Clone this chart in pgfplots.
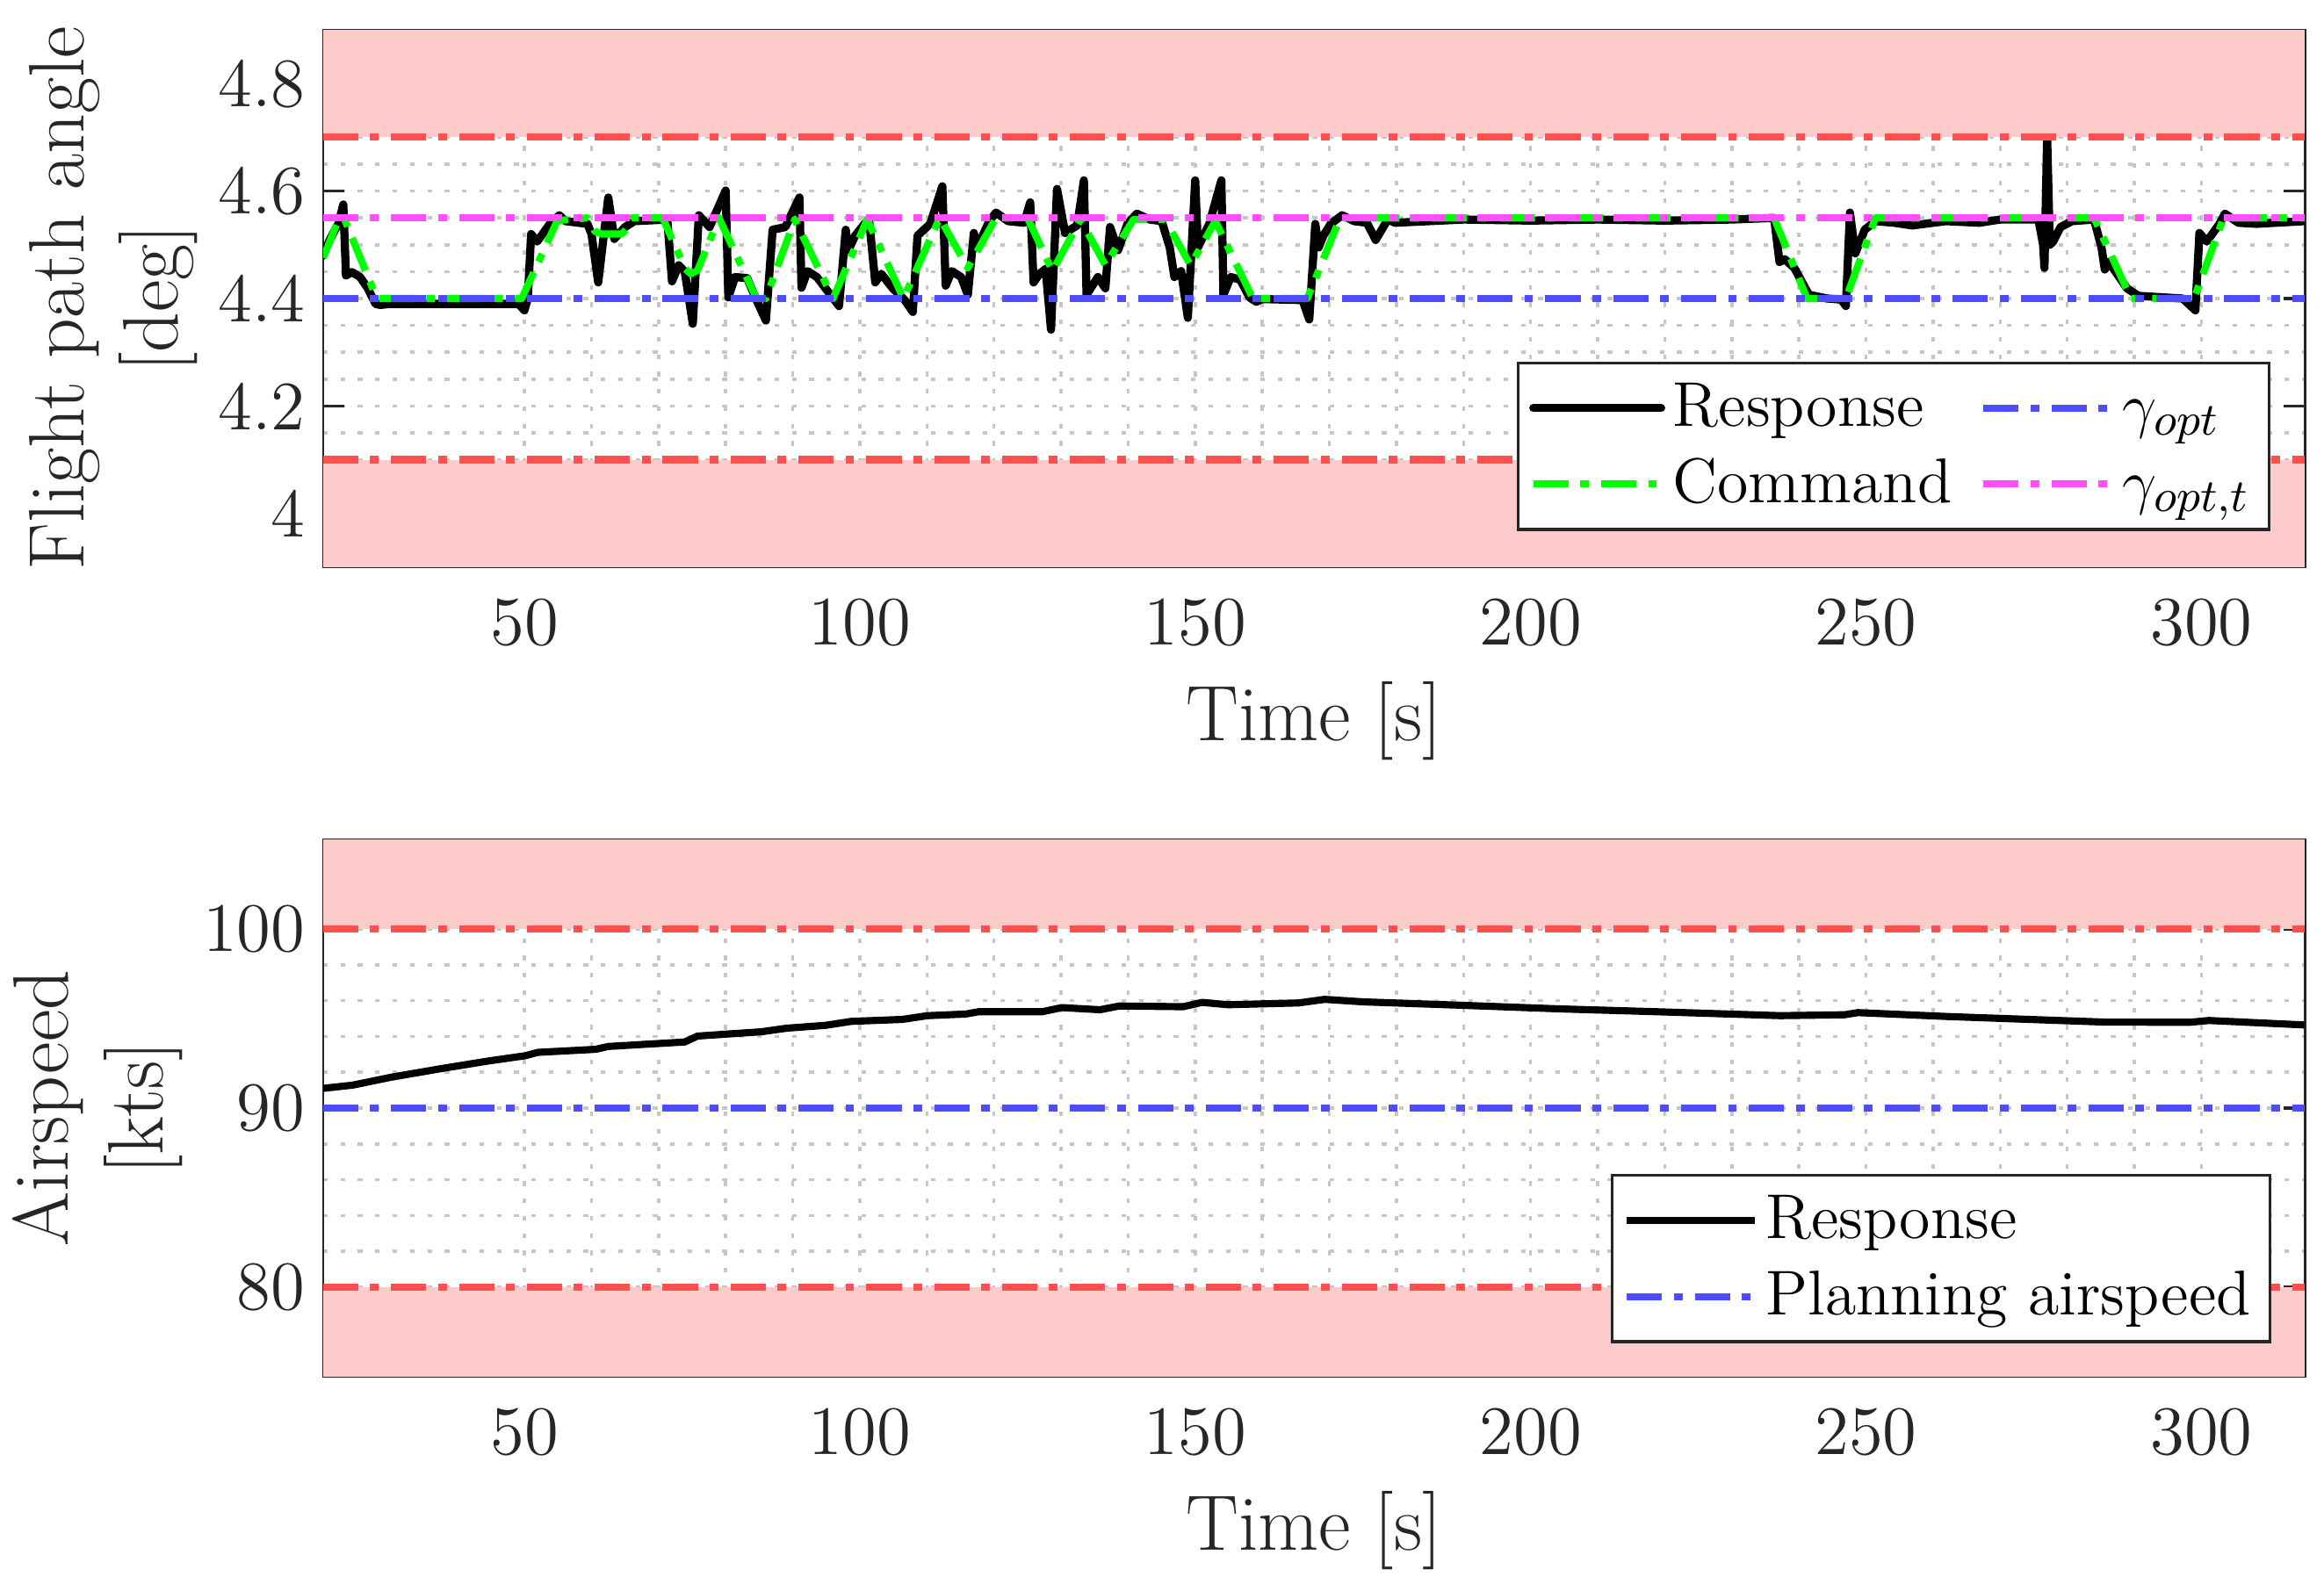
\documentclass[border=0pt]{standalone}
\usepackage{fontspec}
\usepackage{pgfplots}
\pgfplotsset{compat=1.18}

\definecolor{limred}{RGB}{255,80,80}
\definecolor{shade}{RGB}{253,203,202}
\definecolor{optblue}{RGB}{77,77,255}
\definecolor{optmag}{RGB}{255,77,255}
\definecolor{cmdgreen}{RGB}{0,255,0}
\definecolor{axgray}{RGB}{38,38,38}
\definecolor{gridgray}{RGB}{198,198,198}

\pgfplotsset{
  dashdot/.style={dash pattern=on 6.9pt off 2.3pt on 1.7pt off 2.4pt},
  resp/.style={black, line width=1.6pt, line join=round, line cap=round},
  refline/.style={line width=1.4pt, dashdot, line join=round},
  panel/.style={
    scale only axis, width=13.642cm, height=3.70cm,
    xmin=20, xmax=315.4,
    xtick={50,100,150,200,250,300},
    minor x tick num=4,
    grid=both,
    major grid style={draw=gridgray, line width=0.6pt, dash pattern=on 0.9pt off 2.5pt},
    minor grid style={draw=gridgray, line width=0.6pt, dash pattern=on 0.9pt off 2.5pt},
    tick align=inside,
    major tick length=4.2pt, minor tick length=0pt,
    xtick style={draw=none},
    ytick style={draw=axgray, line width=0.6pt},
    axis line style={draw=axgray, line width=0.5pt},
    tick label style={font=\fontsize{13.6}{16}\selectfont, text=axgray},
    xticklabel style={yshift=-2.7pt},
    label style={font=\fontsize{15.4}{18.5}\selectfont, text=axgray},
    ylabel style={align=center, yshift=-2.8pt},
    /pgf/number format/assume math mode=true,
    xlabel={Time [s]},
    legend cell align=left,
    legend image code/.code={\draw[#1] (0cm,0cm) -- (0.88cm,0cm);},
    legend style={anchor=south east, draw=axgray, line width=0.6pt,
      font=\fontsize{12.4}{14}\selectfont, text=black,
      inner xsep=2.2pt, inner ysep=1.9pt, row sep=1.0pt,
      nodes={inner xsep=1.5pt, inner ysep=1pt, text height=9.5pt, text depth=2.4pt}},
  },
}

\begin{document}
\begin{tikzpicture}
\useasboundingbox (0,0) rectangle (16cm,10.951cm);

% flight path angle
\begin{axis}[panel, at={(2.225cm,7.045cm)}, anchor=south west,
  ymin=3.9, ymax=4.9, ytick={4,4.2,4.4,4.6,4.8}, minor y tick num=3,
  ylabel={Flight path angle\\{[deg]}},
  legend columns=2,
  legend style={at={(rel axis cs:1,0)}, xshift=-0.236cm, yshift=0.25cm}]
\addplot[draw=none, fill=shade, forget plot] coordinates {(20,4.7) (315.4,4.7) (315.4,4.9) (20,4.9)};
\addplot[draw=none, fill=shade, forget plot] coordinates {(20,3.9) (315.4,3.9) (315.4,4.1) (20,4.1)};
\addplot[resp, forget plot] coordinates {
(20,4.48) (21.0,4.51) (22.3,4.54) (23.0,4.575) (23.4,4.443) (24.3,4.449) (25.5,4.44)
(26.6,4.42) (27.8,4.39) (28.5,4.388) (30,4.39) (40,4.39) (49.1,4.39) (50.0,4.378)
(50.5,4.40) (51.0,4.52) (51.9,4.506) (53.8,4.539) (55.2,4.555) (56.1,4.544) (59.4,4.539)
(60.0,4.52) (61.0,4.43) (62.5,4.588) (63.4,4.511) (65.0,4.533) (66.4,4.544) (71.3,4.547)
(72.0,4.432) (73.0,4.462) (73.9,4.45) (75.1,4.353) (76.0,4.555) (77.6,4.533) (80.0,4.601)
(80.4,4.402) (81.4,4.44) (83.2,4.438) (84.6,4.397) (86.0,4.359) (87.0,4.528) (88.9,4.533)
(91.0,4.588) (91.3,4.42) (92.2,4.451) (93.6,4.44) (96.9,4.386) (97.9,4.528) (98.3,4.49)
(99.3,4.517) (100.7,4.539) (101.4,4.544) (102.3,4.43) (103.2,4.446) (104.9,4.419)
(106.7,4.397) (107.9,4.375) (108.6,4.517) (110.5,4.539) (112.3,4.609) (112.8,4.424)
(113.7,4.451) (115.1,4.44) (116.1,4.407) (117.0,4.522) (117.5,4.495) (119.3,4.544)
(120.3,4.56) (122.1,4.544) (124.5,4.541) (125.4,4.579) (125.9,4.43) (126.8,4.446)
(127.7,4.455) (128.5,4.342) (129.4,4.604) (130.6,4.522) (132.4,4.536) (133.4,4.62)
(133.8,4.407) (135.5,4.44) (136.6,4.419) (137.3,4.533) (138.5,4.49) (139.9,4.539)
(141.3,4.558) (143.2,4.547) (145.0,4.544) (146.2,4.495) (146.9,4.44) (147.9,4.451)
(148.9,4.364) (150.0,4.62) (150.4,4.495) (152.1,4.539) (153.9,4.62) (154.2,4.407)
(155.3,4.44) (156.7,4.435) (158.1,4.402) (159.1,4.394) (160.0,4.399) (166.0,4.397)
(167.0,4.361) (167.9,4.539) (168.4,4.495) (169.1,4.517) (170.2,4.539) (171.9,4.555)
(173.7,4.544) (175.6,4.541) (176.9,4.509) (178.7,4.547) (179.8,4.541) (190,4.547)
(200,4.545) (210,4.547) (220,4.545) (230,4.547) (236.3,4.55) (237.1,4.468) (237.9,4.473)
(239.3,4.457) (241.5,4.407) (244.2,4.40) (246.3,4.398) (247.0,4.386) (247.6,4.56)
(248.4,4.484) (249.8,4.528) (251.4,4.544) (254.2,4.541) (256.9,4.536) (261.9,4.544)
(266.9,4.541) (270,4.547) (275.7,4.547) (276.4,4.50) (276.6,4.457) (277.0,4.70)
(277.4,4.50) (277.9,4.506) (279.0,4.533) (280.7,4.544) (284.0,4.547) (285.1,4.495)
(285.6,4.454) (286.2,4.468) (288.9,4.419) (290.6,4.405) (297.2,4.40) (299.1,4.378)
(299.7,4.522) (300.8,4.506) (302.7,4.539) (303.5,4.558) (305.5,4.541) (308.2,4.539)
(315.4,4.544)};
\addplot[cmdgreen, refline, forget plot] coordinates {
(20,4.476) (22.2,4.544) (23.1,4.55) (28.0,4.40) (49.6,4.40) (54.9,4.545) (59.4,4.55)
(60.5,4.525) (61.5,4.52) (64.5,4.52) (65.3,4.53) (66.0,4.55) (70.6,4.55) (74.0,4.455)
(74.8,4.446) (75.8,4.452) (79.0,4.55) (84.6,4.40) (86.0,4.40) (90.3,4.547) (96.0,4.40)
(101.1,4.547) (106.5,4.40) (111.9,4.55) (116.1,4.457) (120.3,4.55) (125.0,4.55)
(128.7,4.451) (132.9,4.547) (136.6,4.462) (140.8,4.547) (145.5,4.547) (149.3,4.462)
(153.0,4.544) (158.6,4.40) (166.7,4.40) (171.6,4.55) (236.3,4.55) (241.2,4.40)
(247.0,4.40) (251.4,4.55) (284.0,4.55) (289.5,4.40) (298.9,4.40) (303.3,4.55) (315.4,4.55)};
\addplot[optblue, refline, forget plot] coordinates {(20,4.4) (315.4,4.4)};
\addplot[optmag, refline, forget plot] coordinates {(20,4.55) (315.4,4.55)};
\addplot[limred, refline, forget plot] coordinates {(20,4.7) (315.4,4.7)};
\addplot[limred, refline, forget plot] coordinates {(20,4.1) (315.4,4.1)};
\addlegendimage{resp}
\addlegendentry{Response}
\addlegendimage{optblue, refline}
\addlegendentry{$\gamma_{opt}$}
\addlegendimage{cmdgreen, refline}
\addlegendentry{Command\kern4pt}
\addlegendimage{optmag, refline}
\addlegendentry{$\gamma_{opt,t}$}
\end{axis}

% airspeed
\begin{axis}[panel, at={(2.225cm,1.470cm)}, anchor=south west,
  ymin=75, ymax=105, ytick={80,90,100}, minor y tick num=4,
  ylabel={Airspeed\\{[kts]}},
  legend style={at={(rel axis cs:1,0)}, xshift=-0.23cm, yshift=0.23cm}]
\addplot[draw=none, fill=shade, forget plot] coordinates {(20,100) (315.4,100) (315.4,105) (20,105)};
\addplot[draw=none, fill=shade, forget plot] coordinates {(20,75) (315.4,75) (315.4,80) (20,80)};
\addplot[black, line width=1.4pt, line join=round, forget plot] coordinates {
(20,91.1) (24.4,91.28) (30.1,91.72) (37.7,92.21) (45,92.65) (50.1,92.92) (52.0,93.11)
(60.6,93.28) (62.5,93.44) (73.9,93.69) (75.8,94.02) (85.3,94.26) (89.1,94.46)
(94.9,94.62) (98.7,94.84) (106.3,94.95) (110.1,95.16) (115.8,95.25) (117.7,95.38)
(127.2,95.38) (130.1,95.61) (135.8,95.49) (138.7,95.70) (148.2,95.66) (151.0,95.90)
(154.9,95.77) (165.4,95.87) (169.3,96.07) (175.1,95.93) (189.7,95.74) (204.2,95.54)
(218.7,95.38) (237.2,95.16) (246.8,95.21) (248.8,95.33) (262.3,95.11) (285.6,94.80)
(298.3,94.79) (301.1,94.89) (315.4,94.64)};
\addplot[optblue, refline, forget plot] coordinates {(20,90) (315.4,90)};
\addplot[limred, refline, forget plot] coordinates {(20,100) (315.4,100)};
\addplot[limred, refline, forget plot] coordinates {(20,80) (315.4,80)};
\addlegendimage{black, line width=1.4pt}
\addlegendentry{Response}
\addlegendimage{optblue, refline}
\addlegendentry{Planning airspeed}
\end{axis}
\end{tikzpicture}
\end{document}
